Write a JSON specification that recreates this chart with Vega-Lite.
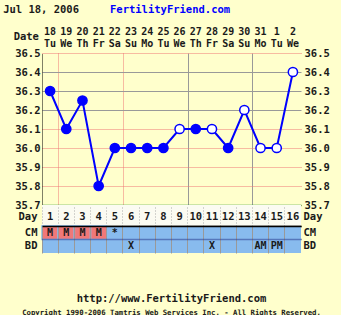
{
  "$schema": "https://vega.github.io/schema/vega-lite/v6.json",
  "background": "#FFFFCC",
  "padding": {"left": 3, "top": 5, "right": 11, "bottom": 0},
  "spacing": 0,
  "bounds": "flush",
  "config": {
    "view": {"stroke": null},
    "axis": {"labelFont": "DejaVu Sans Mono", "labelFontWeight": "bold", "labelFontSize": 10.5, "labelColor": "#1a1a1a", "title": null, "ticks": false},
    "text": {"font": "DejaVu Sans Mono", "fontWeight": "bold", "fontSize": 10.5, "color": "#1a1a1a"}
  },
  "datasets": {
    "days": [
      {"day": 1, "date": "18", "weekday": "Tu", "temp": 36.3, "marker": "filled"},
      {"day": 2, "date": "19", "weekday": "We", "temp": 36.1, "marker": "filled"},
      {"day": 3, "date": "20", "weekday": "Th", "temp": 36.25, "marker": "filled"},
      {"day": 4, "date": "21", "weekday": "Fr", "temp": 35.8, "marker": "filled"},
      {"day": 5, "date": "22", "weekday": "Sa", "temp": 36.0, "marker": "filled"},
      {"day": 6, "date": "23", "weekday": "Su", "temp": 36.0, "marker": "filled"},
      {"day": 7, "date": "24", "weekday": "Mo", "temp": 36.0, "marker": "filled"},
      {"day": 8, "date": "25", "weekday": "Tu", "temp": 36.0, "marker": "filled"},
      {"day": 9, "date": "26", "weekday": "We", "temp": 36.1, "marker": "open"},
      {"day": 10, "date": "27", "weekday": "Th", "temp": 36.1, "marker": "filled"},
      {"day": 11, "date": "28", "weekday": "Fr", "temp": 36.1, "marker": "open"},
      {"day": 12, "date": "29", "weekday": "Sa", "temp": 36.0, "marker": "filled"},
      {"day": 13, "date": "30", "weekday": "Su", "temp": 36.2, "marker": "open"},
      {"day": 14, "date": "31", "weekday": "Mo", "temp": 36.0, "marker": "open"},
      {"day": 15, "date": "1", "weekday": "Tu", "temp": 36.0, "marker": "open"},
      {"day": 16, "date": "2", "weekday": "We", "temp": 36.4, "marker": "open"}
    ],
    "chart": [
      {"day": 1, "row": "CM", "value": "M"},
      {"day": 2, "row": "CM", "value": "M"},
      {"day": 3, "row": "CM", "value": "M"},
      {"day": 4, "row": "CM", "value": "M"},
      {"day": 5, "row": "CM", "value": "*"},
      {"day": 6, "row": "BD", "value": "X"},
      {"day": 11, "row": "BD", "value": "X"},
      {"day": 14, "row": "BD", "value": "AM"},
      {"day": 15, "row": "BD", "value": "PM"}
    ],
    "meta": [
      {"chartDate": "Jul 18, 2006", "site": "FertilityFriend.com", "url": "http://www.FertilityFriend.com", "copyright": "Copyright 1990-2006 Tamtris Web Services Inc. - All Rights Reserved."}
    ]
  },
  "vconcat": [
    {
      "width": 259,
      "height": 152,
      "data": {"name": "days"},
      "layer": [
        {
          "mark": {"type": "line", "color": "#0000FF", "strokeWidth": 2},
          "encoding": {
            "x": {
              "field": "day", "type": "quantitative",
              "scale": {"domain": [0.5, 16.5], "nice": false, "zero": false},
              "axis": {
                "orient": "bottom", "labels": false, "grid": true,
                "values": [1.5, 2.5, 3.5, 4.5, 5.5, 6.5, 7.5, 8.5, 9.5, 10.5, 11.5, 12.5, 13.5, 14.5, 15.5, 16.5],
                "gridColor": {"condition": {"test": "indexof([1.5,2.5,5.5,11.5,12.5,15.5,16.5], datum.value) >= 0", "value": "#EE7777"}, "value": "#999999"},
                "gridDash": {"condition": {"test": "indexof([1.5,2.5,5.5,11.5,12.5,15.5,16.5], datum.value) >= 0", "value": [1, 1]}, "value": []},
                "domainColor": "#339933", "domainWidth": 1.5
              }
            },
            "y": {
              "field": "temp", "type": "quantitative",
              "scale": {"domain": [35.7, 36.5], "nice": false, "zero": false},
              "axis": {
                "orient": "left", "format": ".1f", "labelPadding": 2, "grid": true,
                "values": [35.7, 35.8, 35.9, 36.0, 36.1, 36.2, 36.3, 36.4, 36.5],
                "gridColor": {"condition": {"test": "datum.value < 36.15 || datum.value > 36.45", "value": "#EE7777"}, "value": "#999999"},
                "gridDash": {"condition": {"test": "datum.value < 36.15 || datum.value > 36.45", "value": [1, 1]}, "value": []},
                "domainColor": "#000000", "domainDash": [1, 1]
              }
            }
          }
        },
        {
          "mark": {"type": "point", "shape": "circle", "filled": true, "size": 85, "stroke": "#0000FF", "strokeWidth": 1.5, "opacity": 1},
          "encoding": {
            "x": {"field": "day", "type": "quantitative"},
            "y": {
              "field": "temp", "type": "quantitative",
              "axis": {"orient": "right", "format": ".1f", "labelPadding": 3, "grid": false, "domain": false,
                       "values": [35.7, 35.8, 35.9, 36.0, 36.1, 36.2, 36.3, 36.4, 36.5]}
            },
            "fill": {"field": "marker", "type": "nominal", "scale": {"domain": ["filled", "open"], "range": ["#0000FF", "#FFFFFF"]}, "legend": null}
          }
        },
        {
          "mark": {"type": "text", "baseline": "middle", "align": "center", "fontSize": 10},
          "encoding": {
            "x": {"field": "day", "type": "quantitative"},
            "y": {"datum": 36.61, "axis": null},
            "text": {"field": "date"}
          }
        },
        {
          "mark": {"type": "text", "baseline": "middle", "align": "center", "fontSize": 10},
          "encoding": {
            "x": {"field": "day", "type": "quantitative"},
            "y": {"datum": 36.55, "axis": null},
            "text": {"field": "weekday"}
          }
        },
        {
          "data": {"name": "meta"},
          "mark": {"type": "text", "baseline": "middle", "align": "right", "text": "Date"},
          "encoding": {
            "x": {"datum": 0.31},
            "y": {"datum": 36.584, "axis": null}
          }
        },
        {
          "data": {"name": "meta"},
          "mark": {"type": "text", "baseline": "middle", "align": "left", "fontSize": 10.5},
          "encoding": {
            "x": {"datum": -1.9},
            "y": {"datum": 36.724, "axis": null},
            "text": {"field": "chartDate"}
          }
        },
        {
          "data": {"name": "meta"},
          "mark": {"type": "text", "baseline": "middle", "align": "left", "fontSize": 10.5, "color": "#0000FF"},
          "encoding": {
            "x": {"datum": 4.7},
            "y": {"datum": 36.724, "axis": null},
            "text": {"field": "site"}
          }
        }
      ],
      "resolve": {"axis": {"y": "independent"}}
    },
    {
      "width": 259,
      "height": 21,
      "view": {"fill": "#FBFBF2"},
      "data": {"name": "days"},
      "layer": [
        {
          "mark": {"type": "text", "baseline": "middle", "dy": 1},
          "encoding": {
            "x": {
              "field": "day", "type": "ordinal",
              "scale": {"type": "band", "paddingInner": 0, "paddingOuter": 0},
              "axis": {"orient": "bottom", "labels": false, "grid": true, "bandPosition": 0, "gridColor": "#AAAAAA", "gridDash": [1, 2], "domainColor": "#000000", "domainWidth": 1.5}
            },
            "y": {"datum": "Day", "type": "nominal", "axis": {"orient": "left", "labelPadding": 5, "domain": false, "labelBaseline": "middle", "labelOffset": 1}},
            "text": {"field": "day"}
          }
        },
        {
          "mark": {"type": "text", "opacity": 0},
          "encoding": {
            "x": {"field": "day", "type": "ordinal"},
            "y": {"datum": "Day", "type": "nominal", "axis": {"orient": "right", "labelPadding": 2, "domain": false, "labelOffset": 1}},
            "text": {"field": "day"}
          }
        }
      ],
      "resolve": {"axis": {"y": "independent"}}
    },
    {
      "width": 259,
      "height": 27,
      "view": {"fill": "#88BBEE"},
      "data": {"name": "chart"},
      "layer": [
        {
          "transform": [{"filter": "datum.value === 'M'"}],
          "mark": {"type": "rect", "fill": "#F07878", "stroke": "#88BBEE", "strokeWidth": 1.5},
          "encoding": {
            "x": {
              "field": "day", "type": "ordinal",
              "scale": {"type": "band", "domain": [1, 2, 3, 4, 5, 6, 7, 8, 9, 10, 11, 12, 13, 14, 15, 16], "paddingInner": 0, "paddingOuter": 0},
              "axis": {"orient": "bottom", "labels": false, "grid": true, "bandPosition": 0, "gridColor": "#999999", "domain": false}
            },
            "y": {
              "field": "row", "type": "nominal",
              "scale": {"domain": ["CM", "BD"], "paddingInner": 0, "paddingOuter": 0},
              "axis": {"orient": "left", "labelPadding": 5, "domain": false, "grid": true, "bandPosition": 0,
                       "gridColor": {"condition": {"test": "datum.value === 'CM'", "value": "#000000"}, "value": "#223388"},
                       "gridDash": {"condition": {"test": "datum.value === 'CM'", "value": []}, "value": [1, 1]},
                       "gridWidth": 1.5}
            }
          }
        },
        {
          "mark": {"type": "text", "baseline": "middle", "fontSize": 10},
          "encoding": {
            "x": {"field": "day", "type": "ordinal"},
            "y": {"field": "row", "type": "nominal", "axis": {"orient": "right", "labelPadding": 2, "domain": false}},
            "text": {"field": "value"}
          }
        }
      ],
      "resolve": {"axis": {"y": "independent"}}
    },
    {
      "width": 259,
      "height": 62,
      "data": {"name": "meta"},
      "layer": [
        {
          "mark": {"type": "text", "baseline": "middle", "align": "center", "fontSize": 10.5},
          "encoding": {
            "x": {"datum": 8.5, "scale": {"domain": [0.5, 16.5], "nice": false, "zero": false}, "axis": null},
            "y": {"datum": 46, "scale": {"domain": [0, 62], "reverse": true, "nice": false}, "axis": null},
            "text": {"field": "url"}
          }
        },
        {
          "mark": {"type": "text", "baseline": "middle", "align": "center", "fontSize": 7.3},
          "encoding": {
            "x": {"datum": 8.5},
            "y": {"datum": 59.5},
            "text": {"field": "copyright"}
          }
        }
      ]
    }
  ]
}
